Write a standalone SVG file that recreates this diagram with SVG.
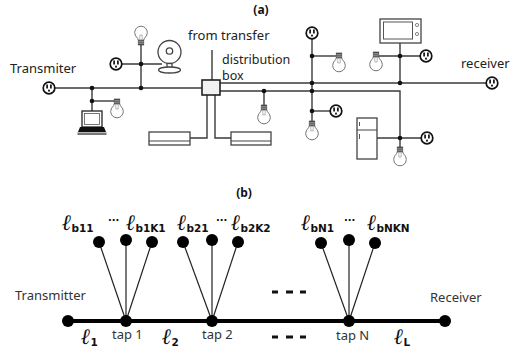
<svg xmlns="http://www.w3.org/2000/svg" xmlns:xlink="http://www.w3.org/1999/xlink" width="526" height="357" viewBox="0 0 526 357">
  <style>
    .wire { stroke: #3a3a3a; stroke-width: 1.4; fill: none; }
    .dot { fill: #111; }
    .lbl { font-family: "Noto Sans", "Open Sans", sans-serif; font-size: 13px; fill: #222; }
    .box-lbl { font-family: "Noto Sans", "Open Sans", sans-serif; font-size: 12.5px; fill: #222; }
    .cap { font-family: "Noto Sans", sans-serif; font-size: 12px; font-weight: bold; fill: #111; }
    .lblb { font-family: "Noto Sans", "Open Sans", sans-serif; font-size: 13px; fill: #333; }
    .ell { font-family: "DejaVu Serif", serif; font-style: italic; font-weight: bold; font-size: 22px; fill: #111; }
    .sub { font-family: "DejaVu Sans", sans-serif; font-weight: bold; font-size: 10.5px; fill: #111; }
    .dots { font-family: "DejaVu Sans", sans-serif; font-weight: bold; font-size: 10px; fill: #111; }
    .branch { stroke: #222; stroke-width: 1.2; }
    .bus { stroke: #000; stroke-width: 4; }
    .node { fill: #000; }
    .dash { stroke: #111; stroke-width: 3; }
    .dev { fill: #fff; stroke: #444; stroke-width: 1.3; }
  </style>
  <defs>
    <!-- wall socket face, centred on the origin -->
    <g id="sock">
      <circle r="5.8" fill="#fff" stroke="#111" stroke-width="1.7"/>
      <line x1="-1.9" y1="-3.4" x2="-1.9" y2="0.6" stroke="#111" stroke-width="1.7"/>
      <line x1="1.9" y1="-3.4" x2="1.9" y2="0.6" stroke="#111" stroke-width="1.7"/>
      <path d="M-1 3.6 L-1 2.4 A1 1 0 0 1 1 2.4 L1 3.6 Z" fill="#111"/>
    </g>
    <!-- light bulb hanging from its cap at the origin -->
    <g id="bulb">
      <rect x="-2.8" y="0" width="5.6" height="5" fill="#555" stroke="#333" stroke-width="0.6"/>
      <line x1="-2.8" y1="1.7" x2="2.8" y2="1.7" stroke="#bbb" stroke-width="0.6"/>
      <line x1="-2.8" y1="3.3" x2="2.8" y2="3.3" stroke="#bbb" stroke-width="0.6"/>
      <path d="M-2.8 5 C-3 7.5 -6.3 8.5 -6.3 12.5 A6.3 6.3 0 0 0 6.3 12.5 C6.3 8.5 3 7.5 2.8 5 Z" fill="#fff" stroke="#777" stroke-width="1"/>
      <path d="M-1.2 5.5 L-1.2 10 M1.2 5.5 L1.2 10 M-1.2 10 L1.2 10" fill="none" stroke="#999" stroke-width="0.7"/>
    </g>
  </defs>

  <!-- ===== (a) house wiring ===== -->
  <text class="cap" x="261" y="14" text-anchor="middle">(a)</text>

  <g id="connectors-a">
    <line class="wire" x1="55" y1="88" x2="202" y2="88"/>
    <line class="wire" x1="92" y1="88" x2="92" y2="111"/>
    <line class="wire" x1="92" y1="101" x2="115" y2="101"/>
    <line class="wire" x1="141" y1="45" x2="141" y2="88"/>
    <line class="wire" x1="122" y1="64" x2="162" y2="64"/>
    <line class="wire" x1="212" y1="50" x2="212" y2="80"/>
    <polyline class="wire" points="207,95 207,138 190,138"/>
    <polyline class="wire" points="215,95 215,138 231,138"/>
    <line class="wire" x1="220" y1="83" x2="486" y2="83"/>
    <polyline class="wire" points="220,91 400,91 400,147"/>
    <line class="wire" x1="264" y1="91" x2="264" y2="105"/>
    <line class="wire" x1="312" y1="39" x2="312" y2="121"/>
    <line class="wire" x1="312" y1="56" x2="337" y2="56"/>
    <line class="wire" x1="312" y1="111" x2="330" y2="111"/>
    <line class="wire" x1="400" y1="43" x2="400" y2="83"/>
    <line class="wire" x1="378" y1="56" x2="420" y2="56"/>
    <line class="wire" x1="377" y1="138" x2="421" y2="138"/>
    <g class="dot">
      <circle cx="92" cy="88" r="2.3"/>
      <circle cx="92" cy="101" r="2.3"/>
      <circle cx="141" cy="64" r="2.3"/>
      <circle cx="141" cy="88" r="2.3"/>
      <circle cx="264" cy="91" r="2.3"/>
      <circle cx="312" cy="56" r="2.3"/>
      <circle cx="312" cy="83" r="2.3"/>
      <circle cx="312" cy="91" r="2.3"/>
      <circle cx="312" cy="111" r="2.3"/>
      <circle cx="400" cy="56" r="2.3"/>
      <circle cx="400" cy="83" r="2.3"/>
      <circle cx="400" cy="138" r="2.3"/>
    </g>
  </g>

  <g id="transmitter-a">
    <use xlink:href="#sock" x="49" y="88"/>
    <text class="lbl" x="10" y="73">Transmiter</text>
  </g>
  <g id="receiver-a">
    <use xlink:href="#sock" x="492" y="83"/>
    <text class="lbl" x="461" y="68">receiver</text>
  </g>
  <g id="distribution-box">
    <rect x="202" y="80" width="18" height="15" fill="#f2f2f2" stroke="#222" stroke-width="1.6"/>
    <text class="lbl" x="188" y="40">from transfer</text>
    <text class="box-lbl" x="222" y="64">distribution</text>
    <text class="box-lbl" x="222" y="80">box</text>
  </g>
  <g id="laptop">
    <rect x="82" y="111" width="20" height="16" fill="#fff" stroke="#222" stroke-width="1.3"/>
    <rect x="84.5" y="113.5" width="15" height="11" fill="#fff" stroke="#555" stroke-width="0.8"/>
    <path d="M80 127 L104 127 L106 132 L78 132 Z" fill="#111"/>
    <rect x="77.5" y="132.5" width="29" height="2.5" fill="#777"/>
  </g>
  <g id="bulb-1"><use xlink:href="#bulb" x="117" y="99"/></g>
  <g id="bulb-2"><use xlink:href="#bulb" transform="translate(141 45) rotate(180)"/></g>
  <g id="socket-1"><use xlink:href="#sock" x="116" y="64"/></g>
  <g id="fan">
    <circle cx="169.5" cy="52" r="11.5" class="dev"/>
    <circle cx="169.5" cy="51" r="3.2" class="dev"/>
    <rect x="167" y="63.5" width="5" height="4" class="dev"/>
    <ellipse cx="169.5" cy="70" rx="11" ry="3" class="dev"/>
  </g>
  <g id="ac-left">
    <rect x="149" y="132" width="41" height="13" class="dev"/>
    <line x1="149" y1="141" x2="190" y2="141" stroke="#444" stroke-width="1"/>
  </g>
  <g id="ac-right">
    <rect x="231" y="132" width="40" height="13" class="dev"/>
    <line x1="231" y1="141" x2="271" y2="141" stroke="#444" stroke-width="1"/>
  </g>
  <g id="bulb-3"><use xlink:href="#bulb" x="264" y="105"/></g>
  <g id="socket-2"><use xlink:href="#sock" x="312" y="33"/></g>
  <g id="bulb-4"><use xlink:href="#bulb" x="339" y="53"/></g>
  <g id="socket-3"><use xlink:href="#sock" x="336" y="111"/></g>
  <g id="bulb-5"><use xlink:href="#bulb" x="312" y="121"/></g>
  <g id="microwave">
    <rect x="380" y="19" width="41" height="24" class="dev"/>
    <rect x="383.5" y="22" width="29" height="17" fill="#fff" stroke="#555" stroke-width="1"/>
    <circle cx="417" cy="25" r="1.6" fill="#fff" stroke="#666" stroke-width="0.8"/>
    <circle cx="417" cy="34" r="1.6" fill="#fff" stroke="#666" stroke-width="0.8"/>
  </g>
  <g id="bulb-6"><use xlink:href="#bulb" x="376" y="52"/></g>
  <g id="socket-4"><use xlink:href="#sock" x="426" y="56"/></g>
  <g id="fridge">
    <rect x="357" y="118" width="20" height="41" class="dev"/>
    <line x1="357" y1="130" x2="377" y2="130" stroke="#444" stroke-width="1"/>
    <line x1="359.5" y1="122" x2="359.5" y2="126" stroke="#555" stroke-width="1"/>
    <line x1="359.5" y1="134" x2="359.5" y2="139" stroke="#555" stroke-width="1"/>
  </g>
  <g id="socket-5"><use xlink:href="#sock" x="427" y="138"/></g>
  <g id="bulb-7"><use xlink:href="#bulb" x="400" y="147"/></g>

  <!-- ===== (b) tapped line model ===== -->
  <text class="cap" x="244" y="197" text-anchor="middle">(b)</text>

  <g id="connectors-b">
    <line class="bus" x1="68" y1="321" x2="445" y2="321"/>
    <line class="branch" x1="99" y1="242" x2="126" y2="321"/>
    <line class="branch" x1="126" y1="240" x2="126" y2="321"/>
    <line class="branch" x1="152" y1="242" x2="126" y2="321"/>
    <line class="branch" x1="183" y1="242" x2="212" y2="321"/>
    <line class="branch" x1="212" y1="240" x2="212" y2="321"/>
    <line class="branch" x1="238" y1="242" x2="212" y2="321"/>
    <line class="branch" x1="321" y1="243" x2="349" y2="321"/>
    <line class="branch" x1="349" y1="240" x2="349" y2="321"/>
    <line class="branch" x1="375" y1="243" x2="349" y2="321"/>
  </g>

  <g id="transmitter-b">
    <circle class="node" cx="68" cy="321" r="6"/>
    <text class="lblb" x="15" y="300">Transmitter</text>
  </g>
  <g id="receiver-b">
    <circle class="node" cx="445" cy="321" r="6"/>
    <text class="lblb" x="430" y="302">Receiver</text>
  </g>
  <g id="tap-1">
    <circle class="node" cx="126" cy="321" r="6"/>
    <text class="lblb" x="112" y="339">tap 1</text>
  </g>
  <g id="tap-2">
    <circle class="node" cx="212" cy="321" r="6"/>
    <text class="lblb" x="202" y="339">tap 2</text>
  </g>
  <g id="tap-n">
    <circle class="node" cx="349" cy="321" r="6"/>
    <text class="lblb" x="336" y="340">tap N</text>
  </g>
  <g id="branches-1">
    <circle class="node" cx="99" cy="242" r="6"/>
    <circle class="node" cx="126" cy="240" r="6"/>
    <circle class="node" cx="152" cy="242" r="6"/>
    <text x="62" y="230"><tspan class="ell">ℓ</tspan><tspan class="sub" dy="2">b11</tspan></text>
    <text class="dots" x="108" y="224">···</text>
    <text x="126" y="230"><tspan class="ell">ℓ</tspan><tspan class="sub" dy="2">b1K1</tspan></text>
  </g>
  <g id="branches-2">
    <circle class="node" cx="183" cy="242" r="6"/>
    <circle class="node" cx="212" cy="240" r="6"/>
    <circle class="node" cx="238" cy="242" r="6"/>
    <text x="177" y="230"><tspan class="ell">ℓ</tspan><tspan class="sub" dy="2">b21</tspan></text>
    <text class="dots" x="216" y="224">···</text>
    <text x="231" y="230"><tspan class="ell">ℓ</tspan><tspan class="sub" dy="2">b2K2</tspan></text>
  </g>
  <g id="branches-n">
    <circle class="node" cx="321" cy="243" r="6"/>
    <circle class="node" cx="349" cy="240" r="6"/>
    <circle class="node" cx="375" cy="243" r="6"/>
    <text x="301" y="230"><tspan class="ell">ℓ</tspan><tspan class="sub" dy="2">bN1</tspan></text>
    <text class="dots" x="344" y="224">···</text>
    <text x="367" y="230"><tspan class="ell">ℓ</tspan><tspan class="sub" dy="2">bNKN</tspan></text>
  </g>
  <g id="segments">
    <text x="81" y="344"><tspan class="ell">ℓ</tspan><tspan class="sub" dy="2">1</tspan></text>
    <text x="162" y="344"><tspan class="ell">ℓ</tspan><tspan class="sub" dy="2">2</tspan></text>
    <text x="394" y="344"><tspan class="ell">ℓ</tspan><tspan class="sub" dy="2">L</tspan></text>
  </g>
  <g id="ellipsis">
    <path class="dash" d="M272 292 H278 M286 292 H293 M300 292 H306"/>
    <path class="dash" d="M272 337 H278 M286 337 H293 M300 337 H306"/>
  </g>
</svg>
